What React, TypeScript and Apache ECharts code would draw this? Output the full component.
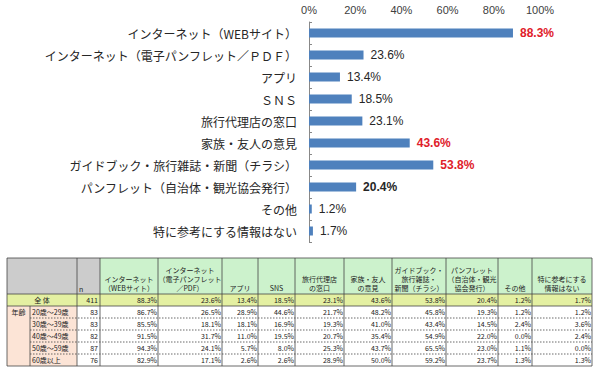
import { useEffect, useRef } from "react";
import * as echarts from "echarts";

// ---- Bar chart data ----
const categories = [
  "インターネット（WEBサイト）",
  "インターネット（電子パンフレット／ＰＤＦ）",
  "アプリ",
  "ＳＮＳ",
  "旅行代理店の窓口",
  "家族・友人の意見",
  "ガイドブック・旅行雑誌・新聞（チラシ）",
  "パンフレット（自治体・観光協会発行）",
  "その他",
  "特に参考にする情報はない",
];
const totalPct = [88.3, 23.6, 13.4, 18.5, 23.1, 43.6, 53.8, 20.4, 1.2, 1.7];
const axisMin = 0;
const axisMax = 100;
const axisStep = 20;

// ---- Table data ----
const tableHeaders = [
  "インターネット\n（WEBサイト）",
  "インターネット\n（電子パンフレット\n／PDF）",
  "アプリ",
  "SNS",
  "旅行代理店\nの窓口",
  "家族・友人\nの意見",
  "ガイドブック・\n旅行雑誌・\n新聞（チラシ）",
  "パンフレット\n（自治体・観光\n協会発行）",
  "その他",
  "特に参考にする\n情報はない",
];
const totalLabel = "全体";
const totalN = 411;
const groupLabel = "年齢";
const ageGroups = ["20歳～29歳", "30歳～39歳", "40歳～49歳", "50歳～59歳", "60歳以上"];
const ageN = [83, 83, 82, 87, 76];
const age20s = [86.7, 26.5, 28.9, 44.6, 21.7, 48.2, 45.8, 19.3, 1.2, 1.2];
const age30s = [85.5, 18.1, 18.1, 16.9, 19.3, 41.0, 43.4, 14.5, 2.4, 3.6];
const age40s = [91.5, 31.7, 11.0, 19.5, 20.7, 35.4, 54.9, 22.0, 0.0, 2.4];
const age50s = [94.3, 24.1, 5.7, 8.0, 25.3, 43.7, 65.5, 23.0, 1.1, 0.0];
const age60s = [82.9, 17.1, 2.6, 2.6, 28.9, 50.0, 59.2, 23.7, 1.3, 1.3];
const ageRows = [age20s, age30s, age40s, age50s, age60s];

// ---- Styles / layout ----
const JP = '"Noto Sans CJK JP", sans-serif';
const LAT = '"Liberation Sans", Arial, sans-serif';
const redIdx = [0, 5, 6];
const boldIdx = [7];
const RED = "#e0202a";
const BAR = "#4f81bd";

const colX = [7, 30, 77, 100, 158, 222, 258, 295, 344, 392, 446, 498, 532, 592];
const headTop = 258;
const headBot = 294;
const rowH = 12;
const TFS = 7;
const BORDER = "#444";

function buildTable(): any[] {
  const els: any[] = [];
  const L = colX[0];
  const R = colX[colX.length - 1];
  const totTop = headBot;
  const totBot = headBot + rowH;
  const bottom = totBot + rowH * ageGroups.length;
  const rect = (x1: number, y1: number, x2: number, y2: number, fill: string) =>
    els.push({ type: "rect", shape: { x: x1, y: y1, width: x2 - x1, height: y2 - y1 }, style: { fill }, silent: true });
  const line = (x1: number, y1: number, x2: number, y2: number, dash?: number[]) =>
    els.push({
      type: "line",
      shape: { x1, y1, x2, y2 },
      style: { stroke: BORDER, lineWidth: dash ? 0.8 : 0.8, lineDash: dash || null },
      silent: true,
    });
  const text = (t: string, x: number, y: number, align: string, va: string, extra: any = {}) =>
    els.push({
      type: "text",
      x,
      y,
      silent: true,
      style: { text: t, fill: "#222", font: `${TFS}px ${JP}`, align, verticalAlign: va, lineHeight: 9, ...extra },
    });

  // backgrounds
  rect(L, headTop, colX[3], headBot, "#cccccc");
  for (let c = 3; c < colX.length - 1; c++) rect(colX[c], headTop, colX[c + 1], headBot, "#ccf2cc");
  rect(L, totTop, R, totBot, "#e4f0a2");
  rect(L, totBot, colX[2], bottom, "#fce4d6");
  rect(colX[2], totBot, R, bottom, "#ffffff");

  // horizontal borders
  line(L, headTop, R, headTop);
  line(L, headBot, R, headBot);
  line(L, totBot, R, totBot);
  for (let r = 1; r < ageGroups.length; r++) {
    const y = totBot + r * rowH;
    line(colX[1], y, R, y, [1.5, 1.5]);
  }
  line(L, bottom, R, bottom);

  // vertical borders
  colX.forEach((x, i) => {
    if (i === 1) line(x, totBot, x, bottom);
    else line(x, headTop, x, bottom);
  });

  // header texts
  text("n", colX[2] + 2, headBot - 1, "left", "bottom");
  tableHeaders.forEach((h, i) => {
    const c = i + 3;
    text(h, (colX[c] + colX[c + 1]) / 2, headBot - 2, "center", "bottom");
  });

  // total row
  const tMid = (totTop + totBot) / 2;
  text(totalLabel.split("").join(" "), (colX[0] + colX[2]) / 2, tMid, "center", "middle");
  text(String(totalN), colX[3] - 2, tMid, "right", "middle");
  totalPct.forEach((v, i) => text(v.toFixed(1) + "%", colX[i + 4] - 1, tMid, "right", "middle"));

  // age rows
  text(groupLabel, (colX[0] + colX[1]) / 2, totBot + rowH / 2, "center", "middle");
  ageGroups.forEach((g, r) => {
    const yMid = totBot + r * rowH + rowH / 2;
    text(g, colX[1] + 2, yMid, "left", "middle");
    text(String(ageN[r]), colX[3] - 2, yMid, "right", "middle");
    ageRows[r].forEach((v, i) => text(v.toFixed(1) + "%", colX[i + 4] - 1, yMid, "right", "middle"));
  });
  return els;
}

function buildOption(): any {
  return {
    animation: false,
    backgroundColor: "#ffffff",
    grid: { left: 309, right: 60, top: 22, height: 220, outerBoundsMode: "none" },
    xAxis: {
      type: "value",
      position: "top",
      min: axisMin,
      max: axisMax,
      interval: axisStep,
      axisLine: { show: false },
      axisTick: { show: false },
      splitLine: { show: false },
      axisLabel: { formatter: "{value}%", color: "#404040", fontSize: 11, fontFamily: LAT, margin: 7 },
    },
    yAxis: {
      type: "category",
      inverse: true,
      data: categories,
      axisLine: { show: true, lineStyle: { color: "#888", width: 1 } },
      axisTick: { show: true, inside: true, length: 3, lineStyle: { color: "#888" } },
      axisLabel: { color: "#262626", fontSize: 12, fontFamily: JP, margin: 12 },
    },
    series: [
      {
        type: "bar",
        barWidth: 9,
        itemStyle: { color: BAR },
        label: {
          show: true,
          position: "right",
          distance: 7,
          fontSize: 12,
          fontFamily: LAT,
          color: "#262626",
          formatter: (p: any) => p.value.toFixed(1) + "%",
        },
        data: totalPct.map((v, i) => ({
          value: v,
          label: {
            color: redIdx.includes(i) ? RED : "#262626",
            fontWeight: redIdx.includes(i) || boldIdx.includes(i) ? "bold" : "normal",
          },
        })),
      },
    ],
    graphic: buildTable(),
  };
}

export default function App() {
  const ref = useRef<HTMLDivElement>(null);
  useEffect(() => {
    const chart = echarts.init(ref.current!, null, { renderer: "svg" });
    chart.setOption(buildOption());
    return () => chart.dispose();
  }, []);
  return (
    <div
      ref={ref}
      style={{ position: "fixed", left: 0, top: 0, width: 600, height: 374, background: "#fff" }}
    />
  );
}
